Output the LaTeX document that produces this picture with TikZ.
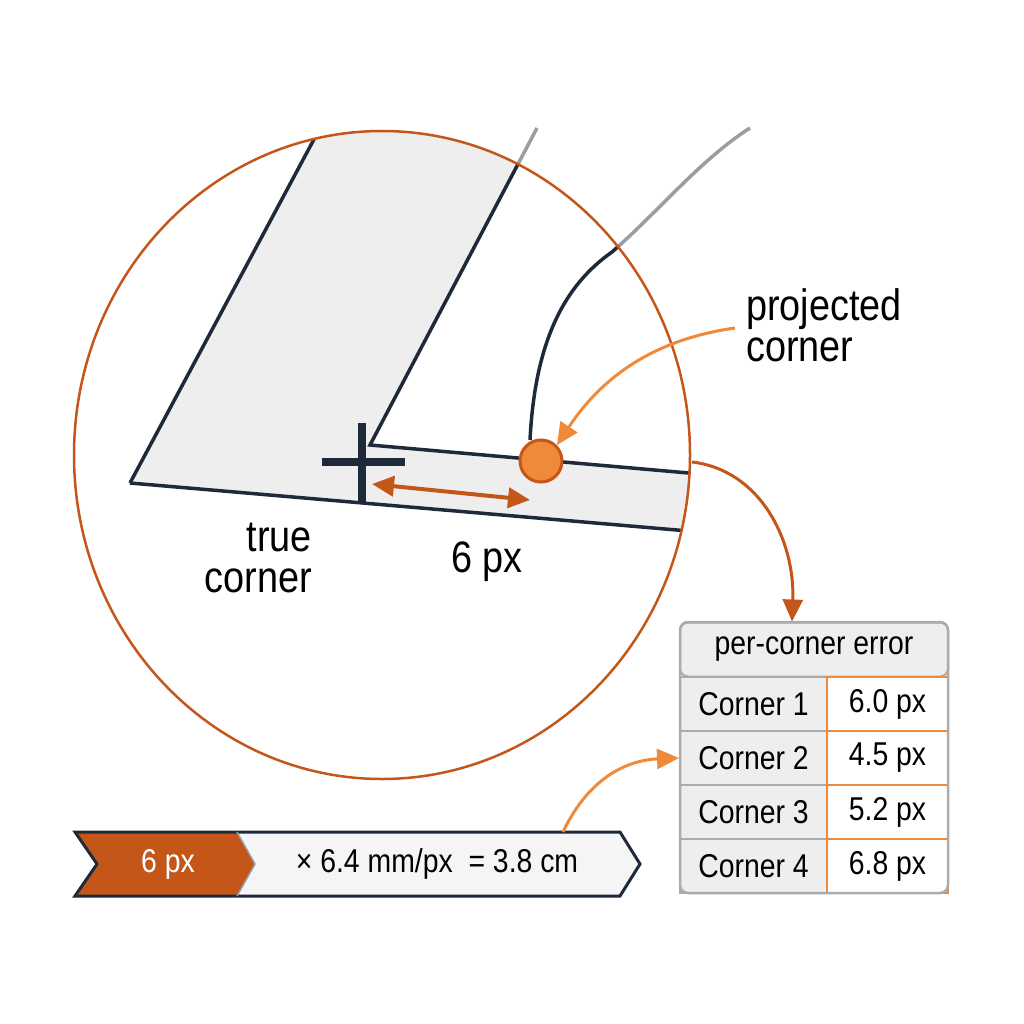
\documentclass[tikz,border=0pt]{standalone}
\usepackage{fontspec}
\setmainfont{Liberation Sans}[FakeStretch=0.86]
\usetikzlibrary{arrows.meta}
\definecolor{navy}{HTML}{1E2A3A}
\definecolor{dorange}{HTML}{C4561A}
\definecolor{lorange}{HTML}{EE8A3A}
\definecolor{lgray}{HTML}{EEEEEE}
\definecolor{bgray}{HTML}{A8ACAF}
\definecolor{cgray}{HTML}{9A9EA3}
\begin{document}
\begin{tikzpicture}[x=1pt,y=-1pt,
  big/.style={font=\fontsize{44}{41}\selectfont},
  mid/.style={font=\fontsize{33}{33}\selectfont},
  edge/.style={navy,line width=3.5pt},
  darr/.style={dorange,line width=3pt,-{Triangle[length=22pt,width=20pt]}},
  larr/.style={lorange,line width=3pt,-{Triangle[length=22pt,width=20pt]}},
  cell/.style={draw=bgray,fill=lgray,line width=2pt,minimum height=54pt,inner sep=0pt,mid},
  ocell/.style={draw=lorange,fill=white,line width=2pt,minimum height=54pt,inner sep=0pt,mid}]
\useasboundingbox (0,0) rectangle (1024,1024);
\def\lensshape{(382,455) ellipse [x radius=308,y radius=324]}
\begin{scope}
\clip \lensshape;
\fill[lgray] (130,483) -- (335,100) -- (552,100) -- (370,445) -- (700,472) -- (700,533) -- cycle;
\draw[edge] (130,483) -- (335,100);
\draw[edge] (537,128) -- (370,445) -- (700,474);
\draw[edge] (130,483) -- (700,532);
\draw[edge] (530,440) .. controls (535,340) and (565,285) .. (612,252) .. controls (660,210) and (700,160) .. (750,128);
\end{scope}
\begin{scope}
\clip (0,0) rectangle (1024,1024) \lensshape;
\draw[cgray,line width=3.5pt] (530,440) .. controls (535,340) and (565,285) .. (612,252) .. controls (660,210) and (700,160) .. (750,128);
\draw[cgray,line width=3.5pt] (370,445) -- (537,128);
\end{scope}
\draw[dorange,line width=2.5pt] \lensshape;
\coordinate (c) at (382,455);
% cross
\draw[navy,line width=8pt] (362,423) -- (362,502) (322,462) -- (405,462);
\coordinate (a1) at (372,484); \coordinate (a2) at (530,500);
\draw[dorange,line width=4pt,{Triangle[length=22pt,width=20pt]}-{Triangle[length=22pt,width=20pt]}] (a1) -- (a2);
\node[circle,fill=lorange,draw=dorange,line width=3pt,minimum size=42pt,inner sep=0pt] (dot) at (541,461) {};
\node[big,align=left,anchor=west,inner sep=0pt] (pc) at (746,325) {projected\\corner};
\node[big,align=right,anchor=east,inner sep=0pt] (tc) at (312,558) {true\\corner};
\node[big,inner sep=0pt] (six) at (487,562) {6 px};
\coordinate (p1) at (735,328);
\draw[larr] (p1) .. controls (650,340) and (600,380) .. (dot.north east);
\coordinate (e1) at (692,462);
% table
\node[cell,minimum width=268pt,rounded corners=8pt] (hd) at (814,649.5) {per-corner error};
\foreach \i/\v in {1/6.0,2/4.5,3/5.2,4/6.8}{
  \node[cell,minimum width=147pt] (k\i) at (753.5,650+54*\i) {Corner \i};
  \node[ocell,minimum width=121pt] (v\i) at (887.5,650+54*\i) {\v\ px};
}
\draw[bgray,line width=2.5pt,rounded corners=8pt] (680,622) rectangle (948,893);
\draw[darr] (e1) .. controls (760,470) and (795,540) .. (hd.north -| 792,0);
% banner
\fill[dorange] (75,832) -- (237,832) -- (255,864) -- (237,896) -- (75,896) -- (97,864) -- cycle;
\fill[lgray!60] (237,832) -- (620,832) -- (640,864) -- (620,896) -- (237,896) -- (255,864) -- cycle;
\draw[navy,line width=3pt,line join=miter] (75,832) -- (620,832) -- (640,864) -- (620,896) -- (75,896) -- (97,864) -- cycle;
\draw[cgray,line width=1.5pt] (237,832) -- (255,864) -- (237,896);
\node[mid,text=white] (b1) at (168,864) {6 px};
\node[mid] (b2) at (437,864) {× 6.4 mm/px\ \ = 3.8 cm};
\coordinate (s1) at (563,832);
\draw[larr] (s1) .. controls (590,775) and (630,760) .. (k2.west);
\end{tikzpicture}
\end{document}
